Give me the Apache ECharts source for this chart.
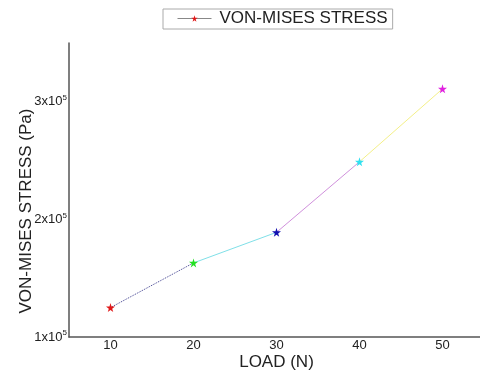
<!DOCTYPE html>
<html>
<head>
<meta charset="utf-8">
<script src="https://cdn.jsdelivr.net/npm/echarts@6/dist/echarts.min.js"></script>
<style>
  html, body { margin: 0; padding: 0; background: #fff; }
  #chart { width: 480px; height: 372px; }
</style>
</head>
<body>
<div id="chart"></div>
<script>
var loads = [10, 20, 30, 40, 50];
var stress = [125000, 163000, 189000, 249000, 311000];
var markerColors = ['#e01818', '#22e022', '#1010b0', '#30e0f0', '#e020e0'];
var segmentColors = ['#404090', '#80e0e8', '#d090dc', '#f4f088'];

var star = 'path://M50,0 L61,35 L98,35 L68,57 L79,91 L50,70 L21,91 L32,57 L2,35 L39,35 Z';
var font = 'Liberation Sans, Arial, sans-serif';

var points = loads.map(function (x, i) {
  return { value: [x, stress[i]], itemStyle: { color: markerColors[i] } };
});

var series = [{
  name: 'VON-MISES STRESS',
  type: 'line',
  data: points,
  symbol: star,
  symbolSize: 9,
  lineStyle: { width: 0, opacity: 0 },
  z: 5
}];

// coloured segment between each pair of points
for (var i = 0; i < loads.length - 1; i++) {
  series.push({
    name: 'seg' + i,
    type: 'line',
    data: [[loads[i], stress[i]], [loads[i + 1], stress[i + 1]]],
    showSymbol: false,
    silent: true,
    lineStyle: { color: segmentColors[i], width: 1, type: i === 0 ? 'dotted' : 'solid' },
    z: 2
  });
}

var chart = echarts.init(document.getElementById('chart'), null, { renderer: 'canvas' });
chart.setOption({
  animation: false,
  backgroundColor: '#fff',
  legend: {
    data: [{
      name: 'VON-MISES STRESS',
      itemStyle: { color: '#e01818' },
      lineStyle: { color: '#888', width: 1, opacity: 1 }
    }],
    top: 9,
    left: 163,
    itemWidth: 34,
    itemHeight: 8,
    itemGap: 0,
    padding: [1, 5, 2, 14],
    borderColor: '#aaa',
    borderWidth: 1,
    textStyle: { fontFamily: font, fontSize: 17, color: '#222', padding: [0, 0, 0, 3] }
  },
  grid: { left: 69, top: 43, right: -4, bottom: 35, outerBoundsMode: 'none' },
  xAxis: {
    type: 'value',
    min: 5,
    max: 55,
    interval: 5,
    name: 'LOAD (N)',
    nameLocation: 'middle',
    nameGap: 17,
    nameMoveOverlap: false,
    nameTextStyle: { fontFamily: font, fontSize: 17, color: '#222' },
    axisLine: { lineStyle: { color: '#555', width: 1.5 } },
    axisTick: { show: false },
    splitLine: { show: false },
    axisLabel: {
      fontFamily: font, fontSize: 13, color: '#222', margin: 2,
      formatter: function (v) { return v % 10 === 0 && v < 55 ? String(v) : ''; }
    }
  },
  yAxis: {
    type: 'value',
    min: 100000,
    max: 350000,
    interval: 50000,
    name: 'VON-MISES STRESS (Pa)',
    nameLocation: 'middle',
    nameGap: 34,
    nameMoveOverlap: false,
    nameTextStyle: { fontFamily: font, fontSize: 17, color: '#222', padding: [0, 42, 0, 0] },
    axisLine: { show: true, lineStyle: { color: '#555', width: 1.5 } },
    axisTick: { show: false },
    splitLine: { show: false },
    axisLabel: {
      fontFamily: font, fontSize: 13, color: '#222', margin: 2,
      formatter: function (v) {
        return v % 100000 === 0 ? (v / 100000) + 'x10{s|5}' : '';
      },
      rich: { s: { fontSize: 8, fontFamily: font, color: '#222', padding: [0, 0, 8, 0] } }
    }
  },
  series: series
});
</script>
</body>
</html>
